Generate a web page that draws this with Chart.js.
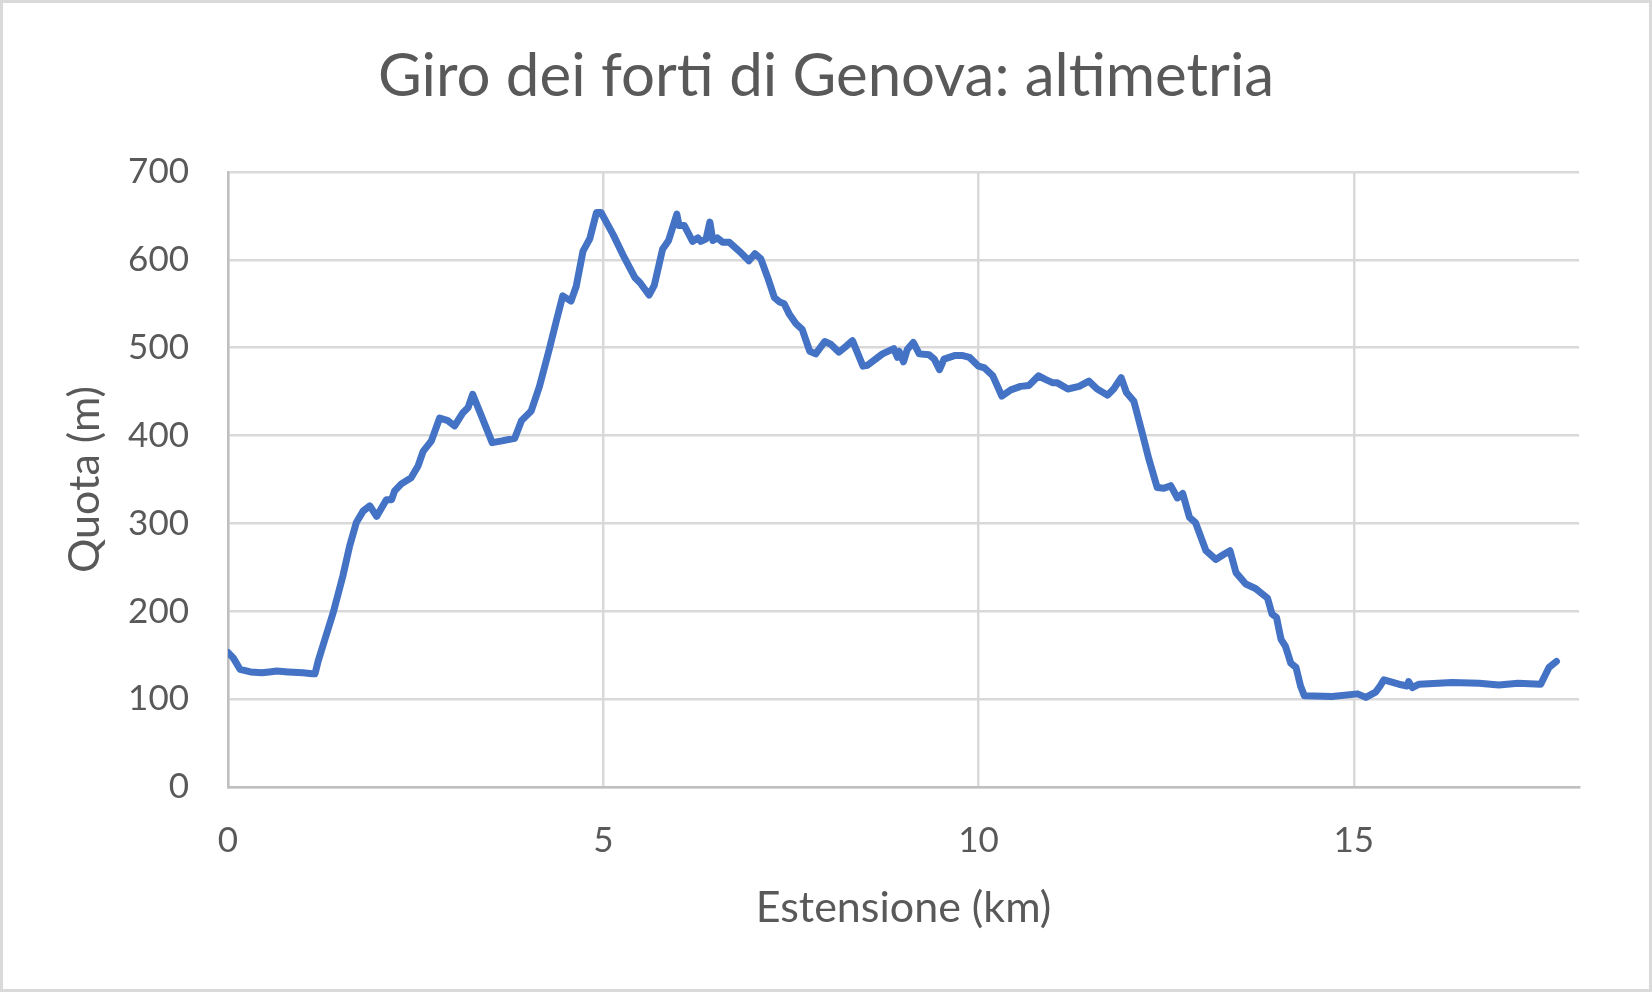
<!DOCTYPE html>
<html>
<head>
<meta charset="utf-8">
<title>Giro dei forti di Genova: altimetria</title>
<script src="https://cdn.jsdelivr.net/npm/chart.js@4.4.1/dist/chart.umd.min.js"></script>
<style>
    html, body { margin: 0; padding: 0; background: #fff; }
    #wrap { position: relative; width: 1652px; height: 992px; }
</style>
</head>
<body>
<div id="wrap"><canvas id="altimetria" width="1652" height="992"></canvas></div>
<script>
// Dati: distanza (km) e quota (m)
const distanzaKm = [
    0.00, 0.07, 0.16, 0.30, 0.45, 0.55, 0.65, 0.80, 1.00, 1.12, 1.16, 1.20, 1.28, 1.40,
    1.53, 1.62, 1.71, 1.80, 1.89, 1.98, 2.11, 2.18, 2.22, 2.31, 2.44, 2.53, 2.60, 2.71,
    2.82, 2.93, 3.02, 3.13, 3.20, 3.26, 3.52, 3.65, 3.82, 3.91, 4.04, 4.15, 4.28, 4.37,
    4.46, 4.57, 4.64, 4.73, 4.82, 4.91, 4.97, 5.13, 5.26, 5.42, 5.49, 5.61, 5.68, 5.79,
    5.87, 5.98, 6.01, 6.08, 6.19, 6.26, 6.30, 6.37, 6.42, 6.46, 6.52, 6.59, 6.68, 6.81,
    6.94, 7.02, 7.10, 7.19, 7.28, 7.35, 7.41, 7.48, 7.57, 7.65, 7.75, 7.83, 7.95, 8.03,
    8.14, 8.24, 8.32, 8.46, 8.52, 8.72, 8.87, 8.92, 8.94, 9.00, 9.05, 9.13, 9.21, 9.34,
    9.41, 9.48, 9.54, 9.68, 9.79, 9.88, 10.00, 10.08, 10.19, 10.31, 10.43, 10.56, 10.67,
    10.80, 10.89, 10.99, 11.05, 11.19, 11.34, 11.47, 11.58, 11.72, 11.80, 11.90, 11.97,
    12.07, 12.18, 12.27, 12.38, 12.47, 12.56, 12.65, 12.72, 12.81, 12.89, 13.03, 13.16,
    13.27, 13.35, 13.43, 13.56, 13.69, 13.85, 13.91, 13.97, 14.03, 14.09, 14.16, 14.23,
    14.29, 14.34, 14.71, 15.05, 15.16, 15.29, 15.35, 15.40, 15.60, 15.71, 15.73, 15.78,
    15.87, 16.31, 16.67, 16.93, 17.19, 17.49, 17.60, 17.70
];
const quotaM = [
    153, 147, 134, 131, 130, 131, 132, 131, 130, 129, 129, 143, 165, 198,
    240, 274, 301, 314, 320, 308, 327, 327, 337, 345, 352, 365, 382, 394,
    420, 417, 411, 426, 432, 447, 392, 394, 397, 417, 428, 456, 498, 529,
    559, 553, 570, 610, 624, 654, 654, 629, 606, 580, 574, 560, 571, 612,
    622, 652, 639, 639, 621, 625, 621, 624, 643, 622, 625, 620, 620, 610,
    599, 607, 601, 580, 557, 552, 550, 538, 527, 521, 496, 493, 507, 504,
    495, 502, 508, 479, 480, 493, 499, 489, 496, 484, 498, 506, 493, 492,
    487, 475, 487, 491, 491, 489, 479, 477, 468, 445, 452, 456, 457,
    468, 464, 460, 460, 453, 456, 462, 453, 446, 453, 466, 449,
    439, 403, 373, 341, 340, 343, 329, 334, 307, 301, 269, 259,
    265, 269, 244, 231, 226, 215, 197, 193, 168, 160, 141, 136,
    115, 104, 103, 106, 102, 108, 115, 122, 117, 115, 120, 113,
    117, 119, 118, 116, 118, 117, 136, 143
];
const tickX = [0, 5, 10, 15];

const grigio = '#595959';

// Cornice esterna del grafico
const cornice = {
    id: 'cornice',
    beforeDraw(chart) {
        const ctx = chart.ctx;
        ctx.save();
        ctx.fillStyle = '#ffffff';
        ctx.fillRect(0, 0, chart.width, chart.height);
        ctx.strokeStyle = '#d9d9d9';
        ctx.lineWidth = 3;
        ctx.strokeRect(1.5, 1.5, chart.width - 3, chart.height - 3);
        ctx.restore();
    }
};

let punti = distanzaKm.map((d, i) => ({ x: d, y: quotaM[i] }));

let grafico = new Chart(document.getElementById('altimetria'), {
    type: 'line',
    data: {
        datasets: [
            {
                label: 'Quota',
                data: punti,
                borderColor: '#4472C4',
                borderWidth: 7,
                borderJoinStyle: 'round',
                borderCapStyle: 'round',
                pointRadius: 0,
                tension: 0
            }
        ]
    },
    options: {
        responsive: false,
        animation: false,
        devicePixelRatio: 1,
        layout: {
            padding: 0
        },
        plugins: {
            legend: { display: false },
            tooltip: { enabled: false },
            title: {
                display: true,
                text: 'Giro dei forti di Genova: altimetria',
                color: grigio,
                font: { family: 'Lato', size: 60, weight: 'normal' },
                padding: { top: 41, bottom: 59 }
            }
        },
        scales: {
            x: {
                type: 'linear',
                min: 0,
                max: 18,
                afterFit: (scale) => { scale.height = 205; },
                afterBuildTicks: (scale) => { scale.ticks = tickX.map(v => ({ value: v })); },
                grid: { color: '#d9d9d9', lineWidth: 2.5, drawTicks: false },
                border: { color: '#bfbfbf', width: 2.5 },
                ticks: {
                    color: grigio,
                    font: { family: 'Lato', size: 35 },
                    padding: 33,
                    maxRotation: 0
                },
                title: {
                    display: true,
                    text: 'Estensione (km)',
                    color: grigio,
                    font: { family: 'Lato', size: 43 },
                    padding: { top: 21, bottom: 58 }
                }
            },
            y: {
                min: 0,
                max: 700,
                afterFit: (scale) => { scale.width = 228; },
                grid: { color: '#d9d9d9', lineWidth: 2.5, drawTicks: false },
                border: { color: '#bfbfbf', width: 2.5 },
                ticks: {
                    color: grigio,
                    font: { family: 'Lato', size: 35 },
                    padding: 39,
                    stepSize: 100
                },
                title: {
                    display: true,
                    text: 'Quota (m)',
                    color: grigio,
                    font: { family: 'Lato', size: 43 },
                    padding: { top: 59, bottom: 18 }
                }
            },
            // margine destro vuoto, così il titolo resta centrato sulla pagina
            margine: {
                position: 'right',
                afterFit: (scale) => { scale.width = 73; },
                grid: { display: false },
                border: { display: false },
                ticks: { display: false }
            }
        }
    },
    plugins: [cornice]
});
</script>
</body>
</html>
